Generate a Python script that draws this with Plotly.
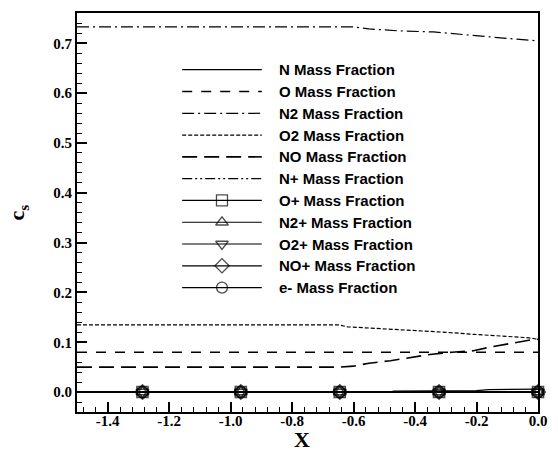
import plotly.graph_objects as go

# ---------------- data ----------------
n_x = [-1.5, -0.48, -0.47, -0.2, -0.16, -0.05, 0.0]
n_y = [0.0, 0.0, 0.002, 0.003, 0.005, 0.006, 0.006]

o_x = [-1.5, 0.0]
o_y = [0.080, 0.080]

n2_x = [-1.5, -0.6, -0.55, -0.45, -0.34, -0.29, -0.2, -0.1, -0.02, 0.0]
n2_y = [0.733, 0.733, 0.729, 0.725, 0.723, 0.720, 0.715, 0.710, 0.706, 0.705]

o2_x = [-1.5, -0.65, -0.62, -0.52, -0.40, -0.30, -0.21, -0.125, -0.03, 0.0]
o2_y = [0.135, 0.135, 0.131, 0.128, 0.124, 0.120, 0.116, 0.112, 0.109, 0.106]

no_x = [-1.5, -0.65, -0.6, -0.55, -0.48, -0.40, -0.345, -0.28, -0.21, -0.15, -0.09, -0.03, 0.0]
no_y = [0.050, 0.050, 0.052, 0.058, 0.063, 0.070, 0.076, 0.080, 0.083, 0.091, 0.098, 0.104, 0.106]

nplus_x = [-1.5, 0.0]
nplus_y = [0.0, 0.0]

ion_x = [-1.5, -1.287, -0.967, -0.645, -0.322, 0.0]
ion_y = [0.0, 0.0, 0.0, 0.0, 0.0, 0.0]

names = ["N Mass Fraction", "O Mass Fraction", "N2 Mass Fraction", "O2 Mass Fraction",
         "NO Mass Fraction", "N+ Mass Fraction", "O+ Mass Fraction", "N2+ Mass Fraction",
         "O2+ Mass Fraction", "NO+ Mass Fraction", "e- Mass Fraction"]

x_tickvals = [-1.4, -1.2, -1.0, -0.8, -0.6, -0.4, -0.2, 0.0]
x_ticktext = ["-1.4", "-1.2", "-1.0", "-0.8", "-0.6", "-0.4", "-0.2", "0.0"]
y_tickvals = [0.0, 0.1, 0.2, 0.3, 0.4, 0.5, 0.6, 0.7]
y_ticktext = ["0.0", "0.1", "0.2", "0.3", "0.4", "0.5", "0.6", "0.7"]

# ---------------- styles ----------------
dashes = ["solid", "10px,9px", "12px,4px,2px,4px", "4px,2px", "15px,7px",
          "10px,3px,2px,3px,2px,3px", "solid", "solid", "solid", "solid", "solid"]
widths = [1.2, 1.6, 1.2, 1.2, 1.6, 1.2, 1.2, 1.2, 1.2, 1.2, 1.2]
symbols = [None, None, None, None, None, None,
           "square-open", "triangle-up-open", "triangle-down-open", "diamond-open", "circle-open"]

series = [(n_x, n_y), (o_x, o_y), (n2_x, n2_y), (o2_x, o2_y), (no_x, no_y),
          (nplus_x, nplus_y), (ion_x, ion_y), (ion_x, ion_y), (ion_x, ion_y),
          (ion_x, ion_y), (ion_x, ion_y)]

fig = go.Figure()

# main traces
for i, (xs, ys) in enumerate(series):
    if symbols[i] is None:
        fig.add_trace(go.Scatter(x=xs, y=ys, mode="lines", showlegend=False,
                                 line=dict(color="black", width=widths[i], dash=dashes[i]),
                                 cliponaxis=False))
    else:
        sizes = [0] + [11] * (len(xs) - 1)
        fig.add_trace(go.Scatter(x=xs, y=ys, mode="lines+markers", showlegend=False,
                                 line=dict(color="black", width=widths[i], dash=dashes[i]),
                                 marker=dict(symbol=symbols[i], size=sizes, color="black",
                                             line=dict(width=1.6, color="black")),
                                 cliponaxis=False))

# legend drawn on an auxiliary overlaid axis pair (row index on y2, sample line 0..1 on x2)
for i in range(len(names)):
    if symbols[i] is None:
        fig.add_trace(go.Scatter(x=[0, 1], y=[i, i], mode="lines", showlegend=False,
                                 xaxis="x2", yaxis="y2", cliponaxis=False,
                                 line=dict(color="black", width=widths[i], dash=dashes[i])))
    else:
        fig.add_trace(go.Scatter(x=[0, 0.5, 1], y=[i, i, i], mode="lines+markers",
                                 showlegend=False, xaxis="x2", yaxis="y2", cliponaxis=False,
                                 line=dict(color="black", width=widths[i]),
                                 marker=dict(symbol=symbols[i], size=[0, 11, 0], color="black",
                                             line=dict(width=1.3, color="black"))))
    fig.add_annotation(x=1.185, y=i, xref="x2", yref="y2", text=names[i], showarrow=False,
                       xanchor="left", yanchor="middle",
                       font=dict(family="Liberation Sans, Arial", size=15, color="black",
                                 weight="bold"))

tickfont = dict(family="Liberation Serif, Times New Roman", size=15, color="black", weight="bold")

fig.update_layout(
    width=558, height=451,
    margin=dict(l=77, r=12, t=11, b=39),
    paper_bgcolor="white", plot_bgcolor="white",
    showlegend=False,
    xaxis=dict(range=[-1.5, 0.0], tickmode="array", tickvals=x_tickvals, ticktext=x_ticktext,
               ticks="inside", ticklen=10, tickwidth=1.5, tickcolor="black",
               ticklabelstandoff=-6,
               minor=dict(tickmode="linear", tick0=0, dtick=0.04, ticks="inside",
                          ticklen=5, tickwidth=1.2, tickcolor="black"),
               showline=True, linecolor="black", linewidth=2, mirror=True,
               showgrid=False, zeroline=False, tickfont=tickfont),
    yaxis=dict(range=[-0.04, 0.761], tickmode="array", tickvals=y_tickvals, ticktext=y_ticktext,
               ticks="inside", ticklen=10, tickwidth=1.5, tickcolor="black",
               minor=dict(tickmode="linear", tick0=0, dtick=0.02, ticks="inside",
                          ticklen=5, tickwidth=1.2, tickcolor="black"),
               showline=True, linecolor="black", linewidth=2, mirror=True,
               showgrid=False, zeroline=False, tickfont=tickfont),
    xaxis2=dict(overlaying="x", range=[-1.321, 4.469], visible=False, fixedrange=True),
    yaxis2=dict(overlaying="y", range=[15.71, -2.603], visible=False, fixedrange=True),
)

fig.add_annotation(x=0.488, y=-0.068, xref="paper", yref="paper", text="X", showarrow=False,
                   xanchor="center", yanchor="middle",
                   font=dict(family="Liberation Serif, Times New Roman", size=22,
                             color="black", weight="bold"))
fig.add_annotation(x=-0.128, y=0.5, xref="paper", yref="paper", text="c<sub>s</sub>",
                   showarrow=False, textangle=-90, xanchor="center", yanchor="middle",
                   font=dict(family="Liberation Serif, Times New Roman", size=22,
                             color="black", weight="bold"))

fig.write_html("out.html")
